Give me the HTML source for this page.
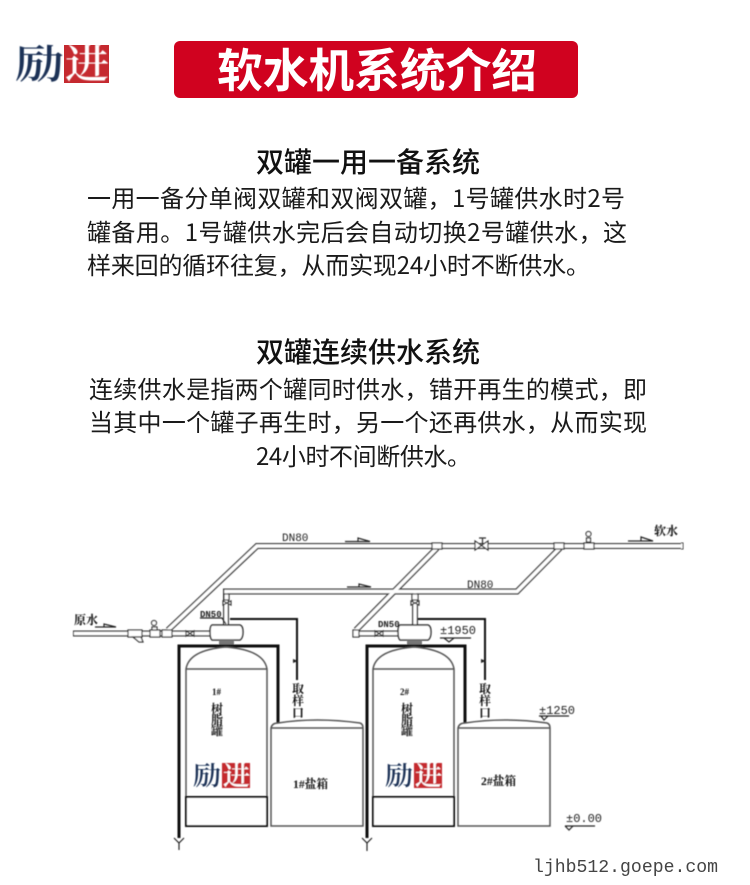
<!DOCTYPE html>
<html><head><meta charset="utf-8"><style>
html,body{margin:0;padding:0;background:#fff;width:750px;height:885px;overflow:hidden}
svg{display:block;font-family:"Noto Sans CJK SC","Liberation Sans",sans-serif}
.b{font-size:24px;fill:#1a1a1a}
.h{font-size:28px;fill:#111;font-weight:500}
.s{font-family:"Liberation Serif","Noto Serif CJK SC",serif;fill:#111;font-size:11px;font-weight:700}
.m{font-family:"Liberation Mono",monospace;fill:#222;font-size:11px}
.p{fill:none;stroke:#333;stroke-width:6}
.pi{fill:none;stroke:#fff;stroke-width:3.4}
.l{fill:none;stroke:#222;stroke-width:1.2}
.k{fill:none;stroke:#111;stroke-width:3}
.g{fill:none;stroke:#555;stroke-width:1.5}
.ln{font-family:"Noto Serif CJK SC",serif;font-weight:600}
</style></head><body>
<svg width="750" height="885" viewBox="0 0 750 885" xmlns="http://www.w3.org/2000/svg">
<defs>
<filter id="bl"><feGaussianBlur stdDeviation="0.4"/></filter>
</defs>
<!-- header -->
<rect x="64" y="45" width="45" height="38" fill="#c5292f"/>
<g filter="url(#bl)">
<text class="ln" x="15" y="78" font-size="40" fill="#1c3257" textLength="49" lengthAdjust="spacingAndGlyphs">励</text>
<text class="ln" x="65" y="78" font-size="40" fill="#fff" textLength="44" lengthAdjust="spacingAndGlyphs">进</text>
</g>
<rect x="174" y="41" width="404" height="57" rx="6" fill="#d0021f"/>
<text x="217" y="87" font-size="46" font-weight="700" fill="#fff" textLength="320" lengthAdjust="spacingAndGlyphs">软水机系统介绍</text>
<!-- text -->
<text class="h" x="256" y="172" textLength="224" lengthAdjust="spacingAndGlyphs">双罐一用一备系统</text>
<text class="b" x="87" y="207" textLength="538">一用一备分单阀双罐和双阀双罐，1号罐供水时2号</text>
<text class="b" x="87" y="241" textLength="540">罐备用。1号罐供水完后会自动切换2号罐供水，这</text>
<text class="b" x="87" y="274" textLength="503">样来回的循环往复，从而实现24小时不断供水。</text>
<text class="h" x="256" y="362" textLength="224" lengthAdjust="spacingAndGlyphs">双罐连续供水系统</text>
<text class="b" x="89" y="398" textLength="558">连续供水是指两个罐同时供水，错开再生的模式，即</text>
<text class="b" x="89" y="431" textLength="558">当其中一个罐子再生时，另一个还再供水，从而实现</text>
<text class="b" x="256" y="465" textLength="215">24小时不间断供水。</text>
<!-- diagram -->
<g filter="url(#bl)">
<path class="p" d="M168 630 L257 546 H682"/>
<path class="p" d="M226 627 V591.500 H517 L560 548"/>
<path class="p" d="M356 630 L437 548"/>
<path class="p" d="M415 627 V591.500"/>
<path class="p" d="M73 633.500 H211"/>
<path class="p" d="M355 633.500 H400"/>
<path class="pi" d="M168 630 L257 546 H682"/>
<path class="pi" d="M226 627 V591.500 H517 L560 548"/>
<path class="pi" d="M356 630 L437 548"/>
<path class="pi" d="M415 627 V591.500"/>
<path class="pi" d="M74 633.500 H211"/>
<path class="pi" d="M356 633.500 H400"/>
<path d="M681 543 H683 V549 H681" fill="#fff" stroke="#333" stroke-width="1"/>
<!-- flow arrows -->
<path class="l" d="M345 541.500 H370 L358 538 V541.500 Z M347 587 H371 L359 584 V587 Z M95 627 H116 L104 624 V627 Z M628 541 H653 L641 537 V541 Z"/>
<!-- fittings -->
<g fill="#fff" stroke="#333" stroke-width="1.200">
<rect x="128" y="630" width="14" height="7"/>
<path d="M133 637 L139 642 H143 L141 637 Z"/>
<rect x="150" y="630" width="10" height="7"/>
<circle cx="154" cy="623" r="2.500"/>
<rect x="152" y="627" width="5" height="3"/>
<rect x="162" y="630" width="10" height="7"/>
<path d="M186 631 L194 636 V631 L186 636 Z"/>
<path d="M475 541 L488 550 V541 L475 550 Z"/>
<path d="M479 538 H486 M482.500 538 V545"/>
<rect x="432" y="543" width="10" height="6"/>
<rect x="554" y="543" width="10" height="6"/>
<rect x="584" y="543" width="10" height="6"/>
<circle cx="588.500" cy="534" r="2.500"/>
<rect x="586.500" y="538" width="4" height="4"/>
<rect x="224" y="594" width="5" height="6"/>
<path d="M223 601 L231 605 V601 L223 605 Z"/>
<rect x="412" y="594" width="6" height="6"/>
<path d="M411 601 L419 605 V601 L411 605 Z"/>
<path d="M375 631 L383 636 V631 L375 636 Z"/>
<rect x="353" y="630" width="6" height="7"/>
<!-- control valves -->
<path d="M212 625 H240 Q243 626 243 632 Q243 638 240 640 H212 Q210 638 210 632 Q210 626 212 625 Z" stroke-width="1.500"/>
<path d="M400 625 H428 Q431 626 431 632 Q431 638 428 640 H400 Q398 638 398 632 Q398 626 400 625 Z" stroke-width="1.500"/>
</g>
<rect x="219" y="640" width="15" height="7" fill="#777"/>
<rect x="407" y="640" width="15" height="7" fill="#777"/>
<path class="l" d="M200 618 H222 L226 624"/>
<!-- sample lines -->
<path class="k" d="M230 619 H297 V680" style="stroke-width:2"/>
<path class="k" d="M418 619 H485 V680" style="stroke-width:2"/>
<path d="M293 659 L298 661 L293 663 Z M481 659 L486 661 L481 663 Z" fill="#222"/>
<!-- outer thick piping -->
<path class="k" d="M179 838 V646 H278 V723"/>
<path class="k" d="M367 838 V646 H465 V723"/>
<path class="l" d="M174 838 L179 843 L184 838 M179 843 V850"/>
<path class="l" d="M362 838 L367 843 L372 838 M367 843 V851"/>
<!-- tanks -->
<path class="g" d="M186 797 V669 Q189 650 226 647 Q264 650 267 669 V797 M186 669 H267"/>
<path class="g" d="M373 797 V669 Q376 650 414 647 Q451 650 454 669 V797 M373 669 H454"/>
<rect x="186" y="797" width="81" height="29" fill="#fff" stroke="#111" stroke-width="2"/>
<rect x="373" y="797" width="81" height="29" fill="#fff" stroke="#111" stroke-width="2"/>
<!-- salt -->
<path class="g" d="M271 826 V728 Q272 723 278 723 Q316 717 360 723 Q363 724 363 728 V826 Z M271 728 H363"/>
<path class="g" d="M458 826 V728 Q459 723 465 723 Q504 717 547 723 Q550 724 550 728 V826 Z M458 728 H550"/>
<!-- labels -->
<text class="m" x="282" y="541">DN80</text>
<text class="m" x="467" y="588">DN80</text>
<text class="m" x="200" y="617" font-size="9" style="font-size:9px;font-weight:700">DN50</text>
<text class="m" x="378" y="627" font-size="9" style="font-size:9px;font-weight:700">DN50</text>
<text class="s" x="74" y="624" style="font-size:12px">原水</text>
<text class="s" x="654" y="535" style="font-size:12px">软水</text>
<text class="s" x="212" y="695" style="font-size:9px">1#</text>
<text class="s" x="400" y="695" style="font-size:9px">2#</text>
<text class="s" x="211" y="713" style="font-size:12px">树</text><text class="s" x="211" y="724" style="font-size:12px">脂</text><text class="s" x="211" y="735" style="font-size:12px">罐</text>
<text class="s" x="401" y="713" style="font-size:12px">树</text><text class="s" x="401" y="724" style="font-size:12px">脂</text><text class="s" x="401" y="735" style="font-size:12px">罐</text>
<text class="s" x="292" y="693" style="font-size:12px">取</text><text class="s" x="292" y="705" style="font-size:12px">样</text><text class="s" x="292" y="717" style="font-size:12px">口</text>
<text class="s" x="479" y="693" style="font-size:12px">取</text><text class="s" x="479" y="705" style="font-size:12px">样</text><text class="s" x="479" y="717" style="font-size:12px">口</text>
<text class="s" x="293" y="788" textLength="35" lengthAdjust="spacingAndGlyphs" style="font-size:12px">1#盐箱</text>
<text class="s" x="481" y="785" textLength="35" lengthAdjust="spacingAndGlyphs" style="font-size:12px">2#盐箱</text>
<text class="m" x="440" y="634" style="font-size:12px" textLength="36">±1950</text>
<path class="l" d="M440 638 H471 M444 638 L449 642 L454 638"/>
<text class="m" x="539" y="714" style="font-size:12px" textLength="36">±1250</text>
<path class="l" d="M539 716 H569 M541 716 L544 720 L548 716"/>
<text class="m" x="566" y="822" style="font-size:12px" textLength="36">±0.00</text>
<path class="l" d="M565 826 H595 M565 826 L569 830 L573 826"/>
<!-- watermark logos -->
<rect x="222" y="763" width="28" height="25" fill="#c5292f"/>
<text class="ln" x="193" y="785" style="font-size:26px" fill="#1c3257" textLength="28" lengthAdjust="spacingAndGlyphs">励</text>
<text class="ln" x="223" y="785" style="font-size:26px" fill="#fff" textLength="27" lengthAdjust="spacingAndGlyphs">进</text>
<rect x="414" y="763" width="28" height="25" fill="#c5292f"/>
<text class="ln" x="385" y="785" style="font-size:26px" fill="#1c3257" textLength="28" lengthAdjust="spacingAndGlyphs">励</text>
<text class="ln" x="415" y="785" style="font-size:26px" fill="#fff" textLength="27" lengthAdjust="spacingAndGlyphs">进</text>
</g>
<text x="533" y="872" font-family="Liberation Mono, monospace" font-size="18" fill="#444" textLength="185" lengthAdjust="spacingAndGlyphs">ljhb512.goepe.com</text>
</svg>
</body></html>
